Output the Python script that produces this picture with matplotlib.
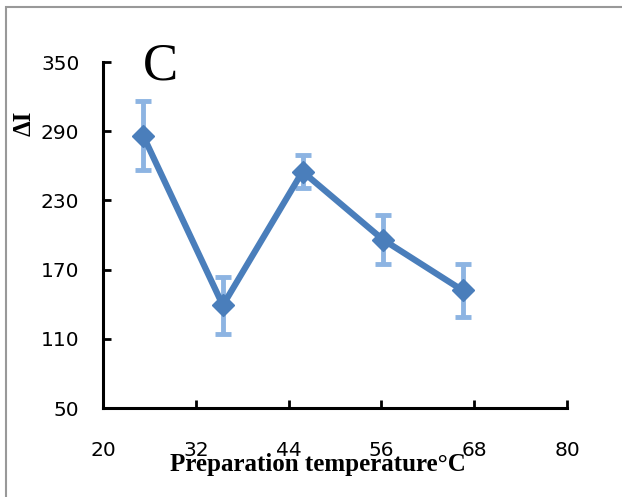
import matplotlib
matplotlib.use("Agg")
import matplotlib.pyplot as plt
from matplotlib.patches import Rectangle

temps = [25.2, 35.5, 45.8, 56.2, 66.5]
delta_i = [286, 139, 255, 196, 152]
errs = [30, 24.5, 14.6, 21, 23]
xticks = [20, 32, 44, 56, 68, 80]
yticks = [50, 110, 170, 230, 290, 350]

fig = plt.figure(figsize=(6.22, 4.97), dpi=100)
ax = fig.add_axes([103/622, 1-408/497, (567-103)/622, (408-62)/497])

ax.errorbar(temps, delta_i, yerr=errs, fmt="none", ecolor="#8db4e2",
            elinewidth=3.5, capsize=6, capthick=3.5, zorder=2)
ax.plot(temps, delta_i, color="#4a7ebb", lw=4.5, marker="D", ms=11,
        mfc="#4a7ebb", mec="#4a7ebb", zorder=3)

ax.set_xlim(20, 80)
ax.set_ylim(50, 350)
ax.set_xticks(xticks)
ax.set_yticks(yticks)
for lab in ax.get_xticklabels() + ax.get_yticklabels():
    lab.set_fontsize(14.5)
ax.tick_params(axis="both", direction="in", length=6, width=2)
ax.tick_params(axis="x", pad=24)
ax.tick_params(axis="y", pad=17)
for s in ["top", "right"]:
    ax.spines[s].set_visible(False)
for s in ["left", "bottom"]:
    ax.spines[s].set_linewidth(2.2)

fig.text(160/622, 1-66/497, "C", fontsize=38, family="Liberation Serif",
         ha="center", va="center")
fig.text(24/622, 1-123/497, "ΔI", fontsize=18, family="Liberation Serif",
         fontweight="bold", rotation=90, ha="center", va="center")
fig.text(318/622, 1-464/497, "Preparation temperature°C", fontsize=18,
         family="Liberation Serif", fontweight="bold", ha="center", va="center")

# chart area frame (only top/left visible in the crop)
fig.add_artist(Rectangle((6/622, -0.1), 1.2, 1 - 6.5/497 + 0.1,
                         transform=fig.transFigure, fill=False,
                         edgecolor="#999999", lw=1.5))

fig.savefig("out.png", dpi=100)
